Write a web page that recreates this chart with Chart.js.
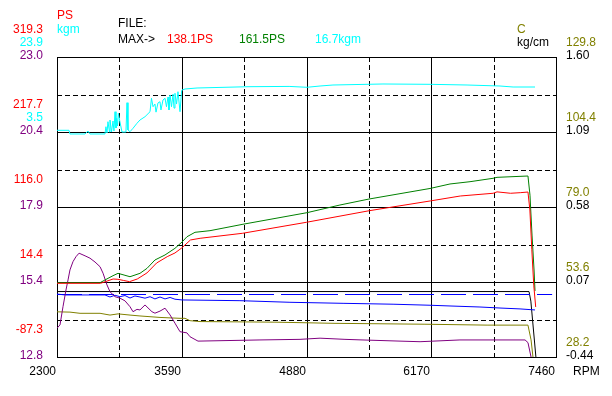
<!DOCTYPE html>
<html>
<head>
<meta charset="utf-8">
<script src="https://cdn.jsdelivr.net/npm/chart.js@4/dist/chart.umd.min.js"></script>
<style>
  html, body { margin: 0; padding: 0; background: #fff; }
  #dyno { display: block; }
</style>
</head>
<body>
<canvas id="dyno" width="612" height="396"></canvas>
<script>
// tick labels
const rpmTicks = [2300, 3590, 4880, 6170, 7460];
const psTicks = [319.3, 217.7, 116.0, 14.4, -87.3];
const kgmTicks = [23.9, 3.5];
const afrTicks = [23.0, 20.4, 17.9, 15.4, 12.8];
const tempTicks = [129.8, 104.4, 79.0, 53.6, 28.2];
const boostTicks = ['1.60', '1.09', '0.58', '0.07', '-0.44'];
const maxLabels = ['138.1PS', '161.5PS', '16.7kgm'];

// power (red)
const psRpm = [2300, 2750, 2800, 2880, 2930, 2990, 3050, 3130, 3230, 3330, 3440, 3520, 3590, 3680, 3780, 4220, 4880, 5530, 6160, 6470, 6810, 6850, 6990, 7090, 7170, 7190, 7210, 7230, 7250];
const psVals = [12.6, 12.6, 14.8, 18.4, 18.0, 16.4, 14.8, 18.4, 26.6, 40.1, 48.7, 53.7, 60.5, 71.3, 73.6, 80.4, 95.3, 111.0, 124.2, 130.9, 134.6, 136.5, 134.6, 135.4, 136.3, 112, 58, 10, -19.5];

// power 2 (green)
const ps2Rpm = [2300, 2745, 2796, 2879, 2931, 2993, 3055, 3158, 3231, 3313, 3417, 3520, 3593, 3644, 3727, 3882, 4223, 4885, 5226, 5526, 6157, 6364, 6571, 6809, 6850, 7170, 7191, 7212, 7233, 7243];
const ps2Vals = [13.4, 13.4, 17.1, 22.9, 26.1, 23.8, 21.5, 26.1, 32.9, 44.2, 51.0, 60.0, 68.6, 75.7, 81.7, 83.9, 92.6, 108.3, 118.7, 126.8, 141.1, 147.2, 150.3, 154.9, 156.2, 158.0, 132, 78, 30.6, 2.2];

// torque (cyan)
const kgmRpm = [2300, 2424, 2434, 2590, 2620, 2641, 2796, 2806, 2817, 2827, 2843, 2848, 2864, 2879, 2889, 2900, 2910, 2917, 2926, 2934, 2951, 2972, 3013, 3024, 3034, 3055, 3086, 3127, 3158, 3210, 3262, 3277, 3293, 3313, 3324, 3344, 3365, 3375, 3396, 3417, 3432, 3448, 3458, 3469, 3484, 3500, 3510, 3520, 3536, 3551, 3572, 3589, 3593, 3624, 3748, 4275, 4700, 4885, 5020, 5154, 5671, 6157, 6540, 6881, 7016, 7243];
const kgmVals = [3.96, 3.96, 2.96, 2.96, 3.77, 2.96, 2.96, 4.94, 3.23, 6.30, 3.50, 6.76, 3.50, 6.49, 3.77, 9.02, 4.59, 7.23, 5.13, 8.59, 6.22, 3.50, 3.50, 11.47, 4.04, 3.58, 4.51, 5.87, 6.76, 7.66, 9.02, 12.67, 10.38, 11.1, 8.9, 11.4, 11.74, 9.5, 12.2, 12.67, 10.38, 13.0, 9.5, 13.56, 10.38, 13.8, 10.0, 14.03, 11.1, 14.46, 9.02, 14.73, 14.92, 15.2, 15.47, 15.82, 15.9, 15.66, 16.01, 16.28, 16.56, 16.47, 16.28, 16.01, 15.74, 15.74];

// air/fuel (purple)
const afrRpm = [2300, 2331, 2362, 2393, 2414, 2434, 2465, 2496, 2528, 2590, 2641, 2693, 2745, 2776, 2817, 2848, 2900, 2951, 3003, 3055, 3086, 3127, 3158, 3210, 3241, 3282, 3313, 3365, 3417, 3469, 3520, 3572, 3644, 3675, 3758, 4399, 4813, 5020, 5278, 5454, 5847, 6054, 6467, 7140, 7170, 7202, 7215];
const afrVals = [13.78, 13.89, 14.51, 15.08, 15.42, 15.76, 16.04, 16.21, 16.33, 16.24, 16.16, 16.03, 15.87, 15.65, 15.25, 15.02, 14.85, 14.80, 14.71, 14.51, 14.34, 14.42, 14.40, 14.57, 14.47, 14.34, 14.29, 14.36, 14.46, 14.23, 13.95, 13.66, 13.62, 13.49, 13.34, 13.38, 13.40, 13.44, 13.40, 13.38, 13.34, 13.32, 13.38, 13.38, 13.29, 12.8, 12.5];

// intake temp (olive)
const tempRpm = [2300, 2434, 2538, 2745, 2848, 2931, 3055, 3158, 3365, 3572, 3624, 3675, 3779, 4554, 5175, 6105, 6747, 7170, 7202, 7222, 7235];
const tempVals = [43.5, 43.4, 43.0, 43.0, 42.4, 42.8, 42.4, 42.1, 41.6, 41.3, 41.3, 40.5, 40.2, 40.0, 39.6, 39.3, 39.0, 39.0, 34.0, 28.2, 25.0];

// boost (black)
const boostRpm = [2300, 7181, 7200, 7255];
const boostVals = [0.005, 0.005, -0.06, -0.46];

// blue traces
const blueRpm = [2300, 2383, 2796, 2848, 2900, 2951, 3003, 3055, 3106, 3158, 3210, 3262, 3313, 3365, 3417, 3469, 3520, 3593, 4192, 4709, 5258, 5775, 6157, 6364, 6674, 6881, 7088, 7243];
const blueVals = [-0.012, -0.018, -0.018, -0.032, -0.020, -0.030, -0.022, -0.039, -0.025, -0.032, -0.040, -0.030, -0.045, -0.032, -0.045, -0.035, -0.047, -0.052, -0.057, -0.068, -0.075, -0.081, -0.088, -0.093, -0.100, -0.107, -0.113, -0.120];
const blueRefRpm = [2300, 7420];
const blueRefVals = [-0.015, -0.015];

const pts = (xs, ys) => xs.map((x, i) => ({ x: x, y: ys[i] }));

const FONT = '12px "Liberation Sans", Arial, sans-serif';

const dynoFrame = {
  id: 'dynoFrame',
  beforeDatasetsDraw(chart) {
    const ctx = chart.ctx;
    const a = chart.chartArea;
    const x = chart.scales.x;
    ctx.save();
    ctx.strokeStyle = '#000';
    ctx.lineWidth = 1;
    // vertical lines: ticks solid, midpoints dashed
    for (let i = 0; i < rpmTicks.length; i++) {
      const px = Math.round(x.getPixelForValue(rpmTicks[i])) + 0.5;
      ctx.setLineDash([]);
      ctx.beginPath(); ctx.moveTo(px, a.top); ctx.lineTo(px, a.bottom + 1); ctx.stroke();
      if (i < rpmTicks.length - 1) {
        const mid = Math.round(x.getPixelForValue((rpmTicks[i] + rpmTicks[i + 1]) / 2)) + 0.5;
        ctx.setLineDash([5, 3]);
        ctx.beginPath(); ctx.moveTo(mid, a.top); ctx.lineTo(mid, a.bottom); ctx.stroke();
      }
    }
    // horizontal lines
    const rows = afrTicks.map((t, i) => a.top + i * (a.bottom - a.top) / (afrTicks.length - 1));
    rows.forEach((py, i) => {
      const p = Math.round(py) + 0.5;
      ctx.setLineDash([]);
      ctx.beginPath(); ctx.moveTo(a.left, p); ctx.lineTo(a.right + 1, p); ctx.stroke();
      if (i < rows.length - 1) {
        const m = Math.round((py + rows[i + 1]) / 2) + 0.5;
        ctx.setLineDash([5, 3]);
        ctx.beginPath(); ctx.moveTo(a.left, m); ctx.lineTo(a.right, m); ctx.stroke();
      }
    });
    ctx.restore();
  },
  afterDraw(chart) {
    const ctx = chart.ctx;
    const a = chart.chartArea;
    const x = chart.scales.x;
    const rows = afrTicks.map((t, i) => a.top + i * (a.bottom - a.top) / (afrTicks.length - 1));
    ctx.save();
    ctx.font = FONT;
    ctx.textBaseline = 'middle';

    // left label stacks
    ctx.textAlign = 'right';
    rows.forEach((py, i) => {
      ctx.fillStyle = '#ff0000';
      ctx.fillText(psTicks[i].toFixed(1), 43, py - 27);
      if (i < kgmTicks.length) {
        ctx.fillStyle = '#00ffff';
        ctx.fillText(kgmTicks[i].toFixed(1), 43, py - 14.5);
      }
      ctx.fillStyle = '#800080';
      ctx.fillText(afrTicks[i].toFixed(1), 43, py - 1.5);
    });

    // right label stacks
    ctx.textAlign = 'left';
    rows.forEach((py, i) => {
      ctx.fillStyle = '#808000';
      ctx.fillText(tempTicks[i].toFixed(1), 566, py - 14);
      ctx.fillStyle = '#000';
      ctx.fillText(boostTicks[i], 566, py - 1.5);
    });

    // unit headers
    ctx.fillStyle = '#ff0000';
    ctx.fillText('PS', 57, 16);
    ctx.fillStyle = '#00ffff';
    ctx.fillText('kgm', 57, 30);
    ctx.fillStyle = '#808000';
    ctx.fillText('C', 517, 30);
    ctx.fillStyle = '#000';
    ctx.fillText('kg/cm', 517, 43);

    // file / max line
    ctx.fillStyle = '#000';
    ctx.fillText('FILE:', 118, 24);
    ctx.fillText('MAX->', 118, 40);
    ctx.fillStyle = '#ff0000';
    ctx.fillText(maxLabels[0], 167, 40);
    ctx.fillStyle = '#008000';
    ctx.fillText(maxLabels[1], 239, 40);
    ctx.fillStyle = '#00ffff';
    ctx.fillText(maxLabels[2], 315, 40);

    // x axis labels
    ctx.fillStyle = '#000';
    ctx.textAlign = 'right';
    rpmTicks.forEach(t => ctx.fillText(String(t), Math.round(x.getPixelForValue(t)) - 1, 372));
    ctx.textAlign = 'left';
    ctx.fillText('RPM', 573, 372);
    ctx.restore();
  }
};

const line = (data, color, axis, extra) => Object.assign({
  data: data,
  borderColor: color,
  borderWidth: 1,
  pointRadius: 0,
  tension: 0,
  fill: false,
  yAxisID: axis
}, extra || {});

new Chart(document.getElementById('dyno'), {
  type: 'line',
  data: {
    datasets: [
      line(pts(psRpm, psVals), '#ff0000', 'ps'),
      line(pts(ps2Rpm, ps2Vals), '#008000', 'ps'),
      line(pts(kgmRpm, kgmVals), '#00ffff', 'kgm'),
      line(pts(afrRpm, afrVals), '#800080', 'afr'),
      line(pts(tempRpm, tempVals), '#808000', 'temp'),
      line(pts(blueRpm, blueVals), '#0000ff', 'boost'),
      line(pts(blueRefRpm, blueRefVals), '#0000ff', 'boost', { borderDash: [25, 7] }),
      line(pts(boostRpm, boostVals), '#000000', 'boost')
    ]
  },
  options: {
    responsive: false,
    animation: false,
    devicePixelRatio: 1,
    layout: { padding: { left: 57, right: 56, top: 57, bottom: 39 } },
    plugins: { legend: { display: false }, tooltip: { enabled: false } },
    scales: {
      x: { type: 'linear', min: 2300, max: 7460, display: false },
      ps: { type: 'linear', min: -87.3, max: 319.3, display: false },
      kgm: { type: 'linear', min: -57.7, max: 23.9, display: false },
      afr: { type: 'linear', min: 12.8, max: 23.0, display: false },
      temp: { type: 'linear', min: 28.2, max: 129.8, display: false },
      boost: { type: 'linear', min: -0.44, max: 1.60, display: false }
    }
  },
  plugins: [dynoFrame]
});
</script>
</body>
</html>
